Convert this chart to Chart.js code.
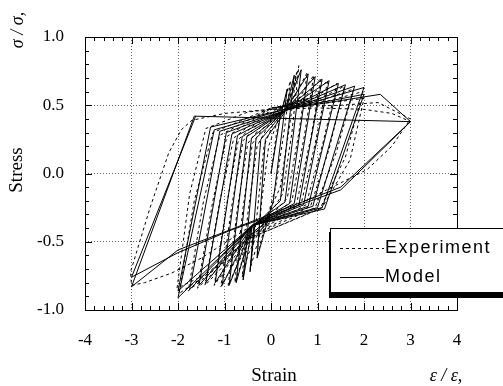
<!DOCTYPE html>
<html>
<head>
<meta charset="utf-8">
<script src="https://cdn.jsdelivr.net/npm/chart.js@4.4.1/dist/chart.umd.min.js"></script>
<style>
  html, body { margin: 0; padding: 0; background: #fff; }
  #wrap { width: 503px; height: 386px; position: relative; }
</style>
</head>
<body>
<div id="wrap"><canvas id="c"></canvas></div>
<script>
  /* ---- tick labels ---- */
  const xTicks = [-4, -3, -2, -1, 0, 1, 2, 3, 4];
  const yTicks = [-1.0, -0.5, 0.0, 0.5, 1.0];
  const seriesNames = ['Experiment', 'Model'];

  /* ---- experiment (dashed), path ---- */
  const expStrain = [
    0, 0.12, 0.28, 0.42,
    0.3, 0.1, -0.1, -0.3,
    -0.2, -0.05, 0.2, 0.4, 0.55,
    0.4, 0.2, -0.2, -0.45,
    -0.3, -0.15, 0.15, 0.45, 0.6,
    0.45, 0.25, -0.25, -0.5, -0.62,
    -0.5, -0.3, 0.1, 0.5, 0.78,
    0.6, 0.35, -0.3, -0.6, -0.78,
    -0.6, -0.4, 0.1, 0.6, 0.92,
    0.72, 0.45, -0.35, -0.7, -0.92,
    -0.72, -0.5, 0.05, 0.7, 1.08,
    0.85, 0.55, -0.4, -0.8, -1.08,
    -0.85, -0.6, 0, 0.8, 1.22,
    0.95, 0.65, -0.4, -0.9, -1.22,
    -0.95, -0.7, 0, 0.9, 1.42,
    1.1, 0.75, -0.45, -1.0, -1.42,
    -1.1, -0.8, 0, 1.0, 1.58,
    1.25, 0.85, -0.45, -1.1, -1.58,
    -1.25, -0.95, 0, 1.1, 1.78,
    1.4, 0.95, -0.5, -1.2, -1.78,
    -1.45, -1.1, 0, 1.2, 1.98,
    1.6, 1.05, -0.5, -1.3, -1.98,
    -1.65, -1.25, 0, 1.3, 2.0,
    1.7, 1.1, -0.5, -1.4, -2.02,
    -1.75, -1.4, -0.5, 0.5, 1.5, 2.3, 3.0,
    2.6, 2.07, 1.2, 0.43, -0.5, -1.5, -2.14, -2.72, -3.0,
    -3.02, -2.6, -2.2, -1.93, -1.7, -1.0, 0, 1.0, 2.0, 2.6, 3.0
  ];
  const expStress = [
    0, 0.3, 0.52, 0.68,
    0.35, -0.1, -0.35, -0.6,
    -0.2, 0.2, 0.44, 0.55, 0.74,
    0.35, -0.1, -0.4, -0.7,
    -0.3, 0.2, 0.45, 0.58, 0.79,
    0.3, -0.15, -0.42, -0.6, -0.76,
    -0.3, 0.2, 0.45, 0.56, 0.74,
    0.3, -0.18, -0.42, -0.62, -0.8,
    -0.25, 0.22, 0.46, 0.55, 0.72,
    0.28, -0.2, -0.42, -0.65, -0.82,
    -0.25, 0.22, 0.46, 0.55, 0.7,
    0.25, -0.22, -0.43, -0.66, -0.83,
    -0.25, 0.24, 0.47, 0.55, 0.68,
    0.22, -0.22, -0.44, -0.66, -0.82,
    -0.22, 0.25, 0.47, 0.55, 0.66,
    0.2, -0.23, -0.45, -0.67, -0.82,
    -0.2, 0.26, 0.48, 0.54, 0.64,
    0.18, -0.24, -0.46, -0.68, -0.84,
    -0.2, 0.27, 0.48, 0.54, 0.62,
    0.15, -0.25, -0.47, -0.7, -0.86,
    -0.2, 0.28, 0.48, 0.53, 0.6,
    0.12, -0.26, -0.48, -0.72, -0.88,
    -0.2, 0.3, 0.48, 0.52, 0.55,
    0.1, -0.25, -0.48, -0.74, -0.84,
    -0.15, 0.33, 0.45, 0.49, 0.5, 0.52, 0.4,
    0.2, 0.03, -0.12, -0.25, -0.4, -0.62, -0.73, -0.8, -0.82,
    -0.72, -0.25, 0.15, 0.32, 0.39, 0.44, 0.47, 0.48, 0.47, 0.44, 0.38
  ];

  /* ---- model (solid) ---- */
  const modelStrain = [
    0, 0.2, 0.35,
    0.05, -0.3,
    -0.12, 0.3, 0.5,
    0.2, -0.35, -0.45,
    -0.22, 0.3, 0.65,
    0.3, -0.4, -0.6,
    -0.32, 0.3, 0.8,
    0.4, -0.4, -0.75,
    -0.42, 0.3, 0.95,
    0.5, -0.4, -0.9,
    -0.52, 0.3, 1.1,
    0.6, -0.4, -1.05,
    -0.62, 0.3, 1.25,
    0.7, -0.4, -1.2,
    -0.72, 0.3, 1.45,
    0.8, -0.4, -1.4,
    -0.84, 0.3, 1.6,
    0.9, -0.4, -1.55,
    -0.96, 0.3, 1.8,
    1.0, -0.4, -1.75,
    -1.1, 0.3, 2.0,
    1.1, -0.4, -2.0,
    -1.22, 0.3, 2.0,
    1.15, -0.4, -2.0,
    -1.3, 0.3, 2.35, 3.0,
    1.5, -2.0, -3.0,
    -1.65, 3.0,
    1.5, -0.9, -2.0, -3.0,
    -1.62
  ];
  const modelStress = [
    0, 0.42, 0.62,
    -0.2, -0.62,
    0.25, 0.45, 0.72,
    -0.2, -0.38, -0.72,
    0.25, 0.46, 0.76,
    -0.21, -0.38, -0.78,
    0.26, 0.46, 0.73,
    -0.22, -0.38, -0.8,
    0.26, 0.46, 0.71,
    -0.22, -0.38, -0.82,
    0.27, 0.46, 0.69,
    -0.23, -0.38, -0.82,
    0.27, 0.46, 0.68,
    -0.23, -0.38, -0.8,
    0.28, 0.46, 0.66,
    -0.24, -0.38, -0.8,
    0.29, 0.46, 0.65,
    -0.24, -0.38, -0.82,
    0.3, 0.46, 0.64,
    -0.25, -0.38, -0.85,
    0.31, 0.46, 0.63,
    -0.25, -0.38, -0.91,
    0.32, 0.47, 0.58,
    -0.26, -0.38, -0.86,
    0.34, 0.47, 0.58, 0.38,
    -0.1, -0.56, -0.83,
    0.42, 0.38,
    -0.12, -0.42, -0.58, -0.76,
    0.42
  ];

  const toPoints = (xs, ys) => xs.map((v, i) => ({ x: v, y: ys[i] }));

  const serif = "'Liberation Serif', 'DejaVu Serif', serif";
  const sans = "'Liberation Sans', Arial, sans-serif";

  // 안쪽 눈금 + 테두리
  const frameTicks = {
    id: 'frameTicks',
    afterDatasetsDraw(chart) {
      const { ctx, chartArea: a, scales: { x, y } } = chart;
      ctx.save();
      ctx.strokeStyle = '#000';
      ctx.lineWidth = 1;
      ctx.beginPath();
      const nx = Math.round((x.max - x.min) / 0.2);
      for (let i = 0; i <= nx; i++) {
        const px = Math.round(x.getPixelForValue(x.min + i * 0.2)) + 0.5;
        const len = i % 5 === 0 ? 7 : 4;
        ctx.moveTo(px, a.bottom); ctx.lineTo(px, a.bottom - len);
        ctx.moveTo(px, a.top); ctx.lineTo(px, a.top + len);
      }
      const ny = Math.round((y.max - y.min) / 0.1);
      for (let i = 0; i <= ny; i++) {
        const py = Math.round(y.getPixelForValue(y.min + i * 0.1)) + 0.5;
        const len = i % 5 === 0 ? 7 : 4;
        ctx.moveTo(a.left, py); ctx.lineTo(a.left + len, py);
        ctx.moveTo(a.right, py); ctx.lineTo(a.right - len, py);
      }
      ctx.stroke();
      ctx.strokeRect(Math.round(a.left) + 0.5, Math.round(a.top) + 0.5,
                     Math.round(a.right - a.left), Math.round(a.bottom - a.top));
      ctx.restore();
    }
  };

  // 축 제목 + 범례 상자
  const labelsAndLegend = {
    id: 'labelsAndLegend',
    afterDraw(chart) {
      const { ctx } = chart;
      ctx.save();
      ctx.fillStyle = '#000';
      ctx.textAlign = 'center';
      ctx.textBaseline = 'middle';

      ctx.font = '19px ' + serif;
      ctx.fillText('Strain', 274, 376);
      ctx.font = 'italic 18px ' + serif;
      ctx.fillText('ε / ε,', 446, 376);

      ctx.save();
      ctx.translate(17, 170);
      ctx.rotate(-Math.PI / 2);
      ctx.font = '19px ' + serif;
      ctx.fillText('Stress', 0, 0);
      ctx.restore();

      ctx.save();
      ctx.translate(18, 30);
      ctx.rotate(-Math.PI / 2);
      ctx.font = 'italic 18px ' + serif;
      ctx.fillText('σ / σ,', 0, 0);
      ctx.restore();

      // legend
      ctx.fillStyle = '#000';
      ctx.fillRect(329, 232, 200, 66);
      ctx.fillStyle = '#fff';
      ctx.fillRect(330, 228, 200, 65);
      ctx.strokeStyle = '#000';
      ctx.lineWidth = 1;
      ctx.strokeRect(330.5, 228.5, 200, 64);

      ctx.textAlign = 'left';
      ctx.font = '18px ' + sans;
      ctx.letterSpacing = '1.5px';
      chart.data.datasets.forEach((ds, i) => {
        const ly = 248 + i * 29 + 0.5;
        ctx.setLineDash(ds.borderDash || []);
        ctx.beginPath();
        ctx.moveTo(340, ly);
        ctx.lineTo(384, ly);
        ctx.stroke();
        ctx.setLineDash([]);
        ctx.fillStyle = '#000';
        ctx.fillText(ds.label, 385, ly);
      });
      ctx.restore();
    }
  };

  new Chart(document.getElementById('c'), {
    type: 'scatter',
    data: {
      datasets: [
        {
          label: seriesNames[0],
          data: toPoints(expStrain, expStress),
          showLine: true,
          borderColor: '#000',
          borderWidth: 1,
          borderDash: [3, 3],
          pointRadius: 0,
          tension: 0
        },
        {
          label: seriesNames[1],
          data: toPoints(modelStrain, modelStress),
          showLine: true,
          borderColor: '#000',
          borderWidth: 1,
          pointRadius: 0,
          tension: 0
        }
      ]
    },
    options: {
      responsive: true,
      maintainAspectRatio: false,
      animation: false,
      layout: { padding: { top: 37, right: 46, left: 0, bottom: 0 } },
      plugins: { legend: { display: false }, tooltip: { enabled: false } },
      scales: {
        x: {
          type: 'linear',
          min: xTicks[0],
          max: xTicks[xTicks.length - 1],
          afterBuildTicks: s => { s.ticks = xTicks.map(v => ({ value: v })); },
          afterFit: s => { s.height = 76; },
          ticks: {
            color: '#000',
            font: { family: serif, size: 17 },
            padding: 20,
            maxRotation: 0,
            callback: v => String(v)
          },
          grid: { color: '#666', lineWidth: 1, drawTicks: false },
          border: { display: false, dash: [1, 2] }
        },
        y: {
          type: 'linear',
          min: yTicks[0],
          max: yTicks[yTicks.length - 1],
          afterBuildTicks: s => { s.ticks = yTicks.map(v => ({ value: v })); },
          afterFit: s => { s.width = 85; },
          ticks: {
            color: '#000',
            font: { family: serif, size: 17 },
            padding: 21,
            callback: v => Number(v).toFixed(1)
          },
          grid: { color: '#666', lineWidth: 1, drawTicks: false },
          border: { display: false, dash: [1, 2] }
        }
      }
    },
    plugins: [frameTicks, labelsAndLegend]
  });
</script>
</body>
</html>
